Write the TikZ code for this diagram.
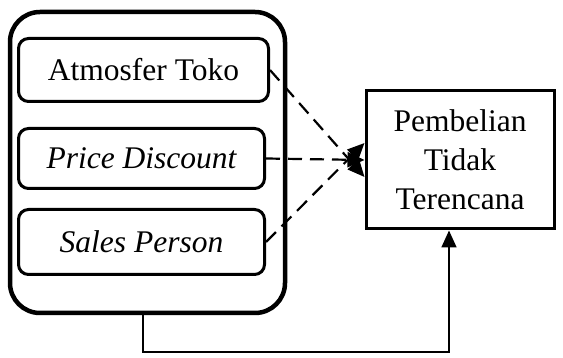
\documentclass[tikz,border=0pt]{standalone}
\usepackage{fontspec}
\setmainfont{Liberation Serif}
\usetikzlibrary{arrows.meta,positioning}

\tikzset{
    group/.style={draw, line width=4.5pt, rounded corners=30pt,
        minimum width=275pt, minimum height=301pt},
    varbox/.style={draw, line width=3pt, rounded corners=10pt,
        minimum width=246pt, minimum height=62pt, inner sep=0pt},
    target/.style={draw, line width=3pt, minimum width=188pt,
        minimum height=138pt, align=center},
    effect/.style={line width=2.2pt, dash pattern=on 14pt off 8pt,
        -{Triangle[length=17pt,width=15pt]}},
    joint/.style={line width=1.8pt, -{Triangle[length=17pt,width=15pt]}},
}

\begin{document}
\begin{tikzpicture}[x=1pt, y=-1pt, font=\fontsize{31.5}{39}\selectfont]
    \useasboundingbox (0,0) rectangle (563,358);

    % independent variables
    \node[group] (vars) at (147.5,162.5) {};
    \node[varbox, minimum width=250pt, minimum height=63pt] (toko) at (143.5,70) {Atmosfer Toko};
    \node[varbox, minimum height=60pt] (diskon) at (141.5,158.5) {\itshape Price Discount};
    \node[varbox, minimum height=65pt] (sales) at (141.5,242) {\itshape Sales Person};

    % dependent variable
    \node[target] (beli) at (460,160) {Pembelian\\Tidak\\Terencana};

    % partial effects
    \draw[effect] (toko.east) -- ([yshift=-17]beli.west);
    \draw[effect] (diskon.east) -- (beli.west);
    \draw[effect] (sales.east) -- ([yshift=17]beli.west);

    % simultaneous effect
    \coordinate (base) at (143,352);
    \draw[joint] (vars.south -| base) -- (base) -| ([xshift=-11]beli.south);
\end{tikzpicture}
\end{document}
